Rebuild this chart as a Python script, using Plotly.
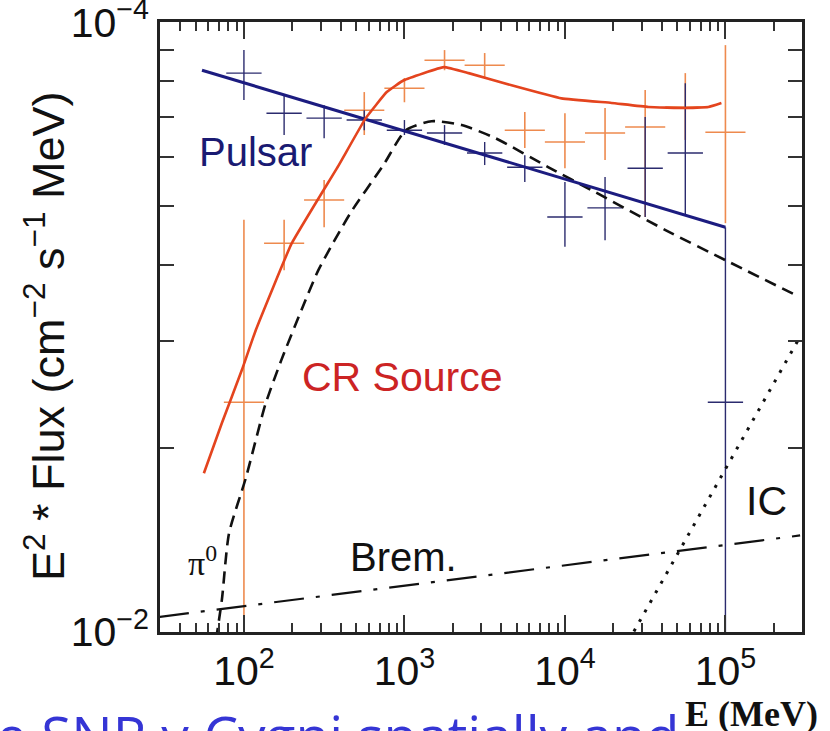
import plotly.graph_objects as go

# ---------------- data ----------------
# energy bin centres (MeV) of the measured points
E_bins = [100, 178, 316, 562, 1000, 1778, 3162, 5623, 10000, 17783, 31623, 56234, 100000]

# pulsar points (navy crosses): value, upper and lower end of the error bar
pulsar_y  = [8.25e-5, 7.09e-5, 6.96e-5, 6.91e-5, 6.65e-5, 6.58e-5, 6.10e-5, 5.78e-5, 4.79e-5, 4.96e-5, 5.76e-5, 6.10e-5, 2.38e-5]
pulsar_hi = [9.00e-5, 7.59e-5, 7.31e-5, 7.17e-5, 6.91e-5, 6.78e-5, 6.36e-5, 6.05e-5, 5.47e-5, 5.57e-5, 6.99e-5, 7.94e-5, 4.61e-5]
pulsar_lo = [7.45e-5, 6.53e-5, 6.45e-5, 6.65e-5, 6.53e-5, 6.29e-5, 5.83e-5, 5.47e-5, 4.28e-5, 4.39e-5, 4.79e-5, 4.83e-5, 5.0e-6]

# CR source points (orange crosses)
cr_y  = [2.38e-5, 4.34e-5, 5.11e-5, 7.17e-5, 7.79e-5, 8.66e-5, 8.50e-5, 6.65e-5, 6.36e-5, 6.58e-5, 6.73e-5, 7.26e-5, 6.60e-5]
cr_hi = [4.74e-5, 4.74e-5, 5.51e-5, 7.68e-5, 8.10e-5, 9.00e-5, 8.90e-5, 7.12e-5, 7.09e-5, 7.23e-5, 7.74e-5, 8.25e-5, 9.17e-5]
cr_lo = [5.0e-6, 3.92e-5, 4.61e-5, 6.53e-5, 7.39e-5, 8.34e-5, 8.12e-5, 6.22e-5, 5.76e-5, 5.94e-5, 4.79e-5, 6.41e-5, 4.68e-5]

# model curves
pulsar_fit_E = [54.8, 100000]
pulsar_fit_F = [8.34e-5, 4.61e-5]

cr_fit_E = [56.3, 72.9, 97.2, 118.8, 198.7, 390, 574, 776, 990, 1758, 2512, 4651, 9526, 19500, 33100, 56200, 78300, 94400]
cr_fit_F = [1.82e-5, 2.20e-5, 2.69e-5, 3.13e-5, 4.34e-5, 5.83e-5, 6.96e-5, 7.68e-5, 8.03e-5, 8.44e-5,
            8.25e-5, 7.88e-5, 7.50e-5, 7.37e-5, 7.26e-5, 7.23e-5, 7.26e-5, 7.37e-5]

pi0_E = [67.0, 72.9, 80.7, 102.9, 136.0, 171.0, 228.0, 291.0, 460.0, 740.0, 1019, 1479, 2274, 3700, 7907, 15500, 42300, 100000, 284600]
pi0_F = [0.97e-5, 1.129e-5, 1.45e-5, 1.79e-5, 2.36e-5, 2.79e-5, 3.37e-5, 3.92e-5, 4.86e-5, 5.83e-5, 6.65e-5,
         6.88e-5, 6.78e-5, 6.45e-5, 5.78e-5, 5.26e-5, 4.56e-5, 4.07e-5, 3.55e-5]

brem_E = [29.6, 292000]
brem_F = [1.058e-5, 1.439e-5]

ic_E = [24900, 292000]
ic_F = [9.66e-6, 3.05e-5]

x_tickvals = [1e2, 1e3, 1e4, 1e5]
x_ticktext = ["10<sup>2</sup>", "10<sup>3</sup>", "10<sup>4</sup>", "10<sup>5</sup>"]
y_tickvals = [1e-5, 1e-4]
y_ticktext = ["10<sup>\u22122</sup>", "10<sup>\u22124</sup>"]

# ---------------- figure ----------------
W, H = 830, 731
L, R, T, B = 160, 28, 22, 99
PW, PH = W - L - R, H - T - B


def px(x):
    return (x - L) / PW


def py(y):
    return (H - B - y) / PH


def cross_trace(ys, his, los, color, half_dec, thick):
    ex_p = [e * (10 ** half_dec - 1) for e in E_bins]
    ex_m = [e * (1 - 10 ** (-half_dec)) for e in E_bins]
    return go.Scatter(
        x=E_bins, y=ys, mode="markers",
        marker=dict(size=1, color="rgba(0,0,0,0)"),
        error_x=dict(type="data", symmetric=False, array=ex_p, arrayminus=ex_m,
                     width=0, thickness=thick, color=color),
        error_y=dict(type="data", symmetric=False,
                     array=[h - y for h, y in zip(his, ys)],
                     arrayminus=[y - l for l, y in zip(los, ys)],
                     width=0, thickness=thick, color=color),
        showlegend=False, hoverinfo="skip",
    )


fig = go.Figure()
fig.add_trace(cross_trace(cr_y, cr_hi, cr_lo, "#ee8a4e", 0.125, 1.6))
fig.add_trace(cross_trace(pulsar_y, pulsar_hi, pulsar_lo, "#2b2b6e", 0.11, 1.4))

fig.add_trace(go.Scatter(x=brem_E, y=brem_F, mode="lines",
                         line=dict(color="#111", width=2.2, dash="30px,12px,4px,12px"),
                         showlegend=False))
fig.add_trace(go.Scatter(x=ic_E, y=ic_F, mode="lines",
                         line=dict(color="#111", width=3, dash="3px,8px"),
                         showlegend=False))
fig.add_trace(go.Scatter(x=pi0_E, y=pi0_F, mode="lines",
                         line=dict(color="#111", width=2.6, dash="12px,7px", shape="spline", smoothing=0.6),
                         showlegend=False))
fig.add_trace(go.Scatter(x=pulsar_fit_E, y=pulsar_fit_F, mode="lines",
                         line=dict(color="#1c1c80", width=3),
                         showlegend=False))
fig.add_trace(go.Scatter(x=cr_fit_E, y=cr_fit_F, mode="lines",
                         line=dict(color="#e4441e", width=2.6, shape="spline", smoothing=0.3),
                         showlegend=False))

x_minor = [m * 10 ** k for k in range(1, 6) for m in range(2, 10)]
y_minor = [m * 1e-5 for m in range(2, 10)]

axis_common = dict(
    showline=True, linecolor="#222", linewidth=2.5, mirror="allticks",
    ticks="inside", tickcolor="#333", tickwidth=1.5, automargin=False,
    showgrid=False, zeroline=False, ticklabeloverflow="allow",
    tickfont=dict(family="Liberation Sans, Arial, sans-serif", size=41, color="#111"),
)

fig.update_xaxes(type="log", range=[1.4771, 5.4771], tickmode="array",
                 tickvals=x_tickvals, ticktext=x_ticktext, ticklen=17, ticklabelstandoff=1,
                 minor=dict(tickmode="array", tickvals=x_minor, ticks="inside", ticklen=9,
                            tickcolor="#333", tickwidth=1.5, showgrid=False),
                 **axis_common)
fig.update_yaxes(type="log", range=[-5.0003, -3.9997], tickmode="array",
                 tickvals=y_tickvals, ticktext=y_ticktext, ticklen=14,
                 minor=dict(tickmode="array", tickvals=y_minor, ticks="inside", ticklen=14,
                            tickcolor="#333", tickwidth=1.5, showgrid=False),
                 **axis_common)

sans = "Liberation Sans, Arial, sans-serif"
serif = "Liberation Serif, Times New Roman, serif"
ann = [
    dict(text="Pulsar", x=px(255), y=py(152), font=dict(family=sans, size=40, color="#1a1a72")),
    dict(text="CR Source", x=px(402), y=py(377), font=dict(family=sans, size=41, color="#cc2424")),
    dict(text="\u03c0<sup>0</sup>", x=px(202), y=py(561), font=dict(family=serif, size=34, color="#111")),
    dict(text="Brem.", x=px(403), y=py(557), font=dict(family=sans, size=40, color="#111")),
    dict(text="IC", x=px(766), y=py(501), font=dict(family=sans, size=41, color="#111")),
    dict(text="<b>E (MeV)</b>", x=px(751), y=py(714), font=dict(family=serif, size=36, color="#111")),
    dict(text="E<sup>2</sup> * Flux (cm<sup>\u22122</sup> s<sup>\u22121</sup> MeV)", x=px(45), y=py(337),
         textangle=-90, font=dict(family=sans, size=45, color="#111")),
]
for a in ann:
    a.update(xref="paper", yref="paper", showarrow=False, xanchor="center", yanchor="middle")
    fig.add_annotation(**a)

fig.add_annotation(text="e SNR \u03b3 Cygni spatially and", x=px(-6), y=py(695),
                   xref="paper", yref="paper", showarrow=False, xanchor="left", yanchor="top",
                   font=dict(family="Open Sans, sans-serif", size=55, color="#3535d5"))

fig.update_layout(width=W, height=H, margin=dict(l=L, r=R, t=T, b=B, autoexpand=False),
                  plot_bgcolor="white", paper_bgcolor="white", showlegend=False)

fig.write_html("out.html")
